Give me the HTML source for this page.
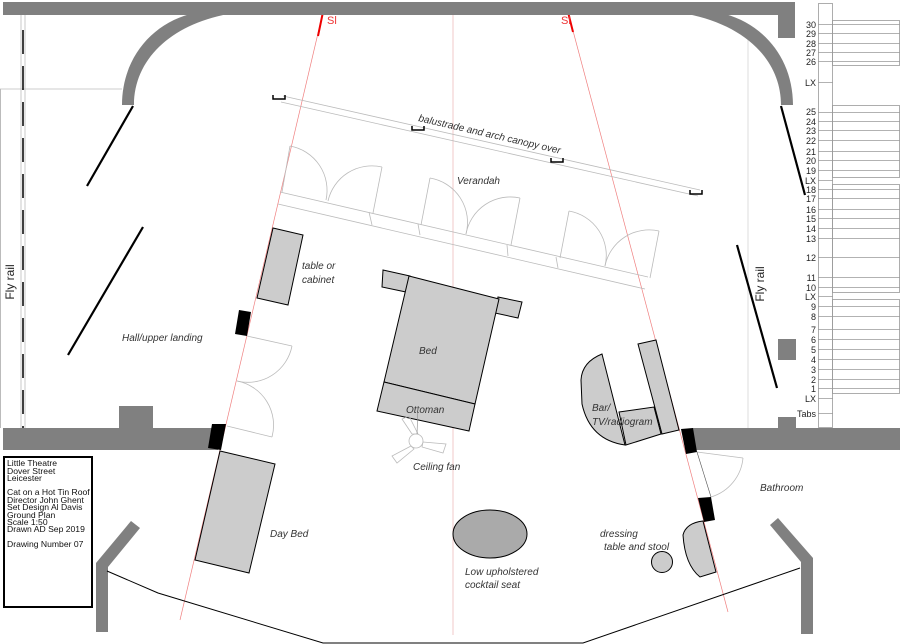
<!DOCTYPE html>
<html><head><meta charset="utf-8"><style>
html,body{margin:0;padding:0;background:#fff;}
svg{display:block;}
.s{font-family:"Liberation Sans",sans-serif;}
.h{font-family:"Liberation Sans",sans-serif;font-style:italic;fill:#333;font-size:10px;}
</style></head><body>
<svg width="900" height="644" viewBox="0 0 900 644" xmlns="http://www.w3.org/2000/svg">
<line x1="453" y1="10" x2="453" y2="635" stroke="#f0c8c8" stroke-width="1"/>
<line x1="323" y1="12" x2="180" y2="620" stroke="#f08080" stroke-width="0.7"/>
<line x1="568" y1="12" x2="728" y2="612" stroke="#f08080" stroke-width="0.7"/>
<line x1="323" y1="12" x2="318" y2="36" stroke="#e00" stroke-width="2"/>
<line x1="568" y1="12" x2="573" y2="32" stroke="#e00" stroke-width="2"/>
<text x="327" y="24" class="s" font-size="11" fill="#e33">Sl</text>
<text x="561" y="24" class="s" font-size="11" fill="#e33">Sl</text>
<text x="449" y="10" class="s" font-size="10" fill="#e33">C</text>
<line x1="748" y1="40" x2="748" y2="428" stroke="#ddd" stroke-width="1"/>
<line x1="0" y1="89" x2="122" y2="89" stroke="#bbb" stroke-width="0.7"/>
<line x1="0.5" y1="89" x2="0.5" y2="428" stroke="#bbb" stroke-width="1"/>
<rect x="3" y="2" width="792" height="13" fill="#808080"/>
<rect x="778" y="2" width="17" height="36" fill="#808080"/>
<path d="M122,105 C122,60 150,25 190,14 L228,14 C170,25 134,60 134,105 Z" fill="#808080"/>
<path d="M793,105 C793,60 765,25 725,14 L687,14 C745,25 781,60 781,105 Z" fill="#808080"/>
<line x1="21" y1="15" x2="21" y2="430" stroke="#bbb" stroke-width="0.8"/>
<line x1="25" y1="15" x2="25" y2="430" stroke="#bbb" stroke-width="0.8"/>
<line x1="23" y1="30" x2="23" y2="428" stroke="#000" stroke-width="1.5" stroke-dasharray="24,12"/>
<text transform="translate(14,282) rotate(-90)" class="s" font-size="12" fill="#222" text-anchor="middle">Fly rail</text>
<text transform="translate(764,284) rotate(-90)" class="s" font-size="12" fill="#222" text-anchor="middle">Fly rail</text>
<line x1="133" y1="106" x2="87" y2="186" stroke="#000" stroke-width="2.2"/>
<line x1="143" y1="227" x2="68" y2="355" stroke="#000" stroke-width="2.2"/>
<line x1="781" y1="106" x2="805" y2="195" stroke="#000" stroke-width="2.2"/>
<line x1="737" y1="245" x2="777" y2="388" stroke="#000" stroke-width="2.2"/>
<rect x="778" y="339" width="18" height="21" fill="#808080"/>
<rect x="3" y="428" width="215" height="22" fill="#808080"/>
<rect x="119" y="406" width="34" height="22" fill="#808080"/>
<rect x="693" y="428" width="207" height="22" fill="#808080"/>
<rect x="778" y="417" width="18" height="11" fill="#808080"/>
<polygon points="212,424 226,424 221,450 208,448" fill="#000"/>
<polygon points="239,310 251,312 247,336 235,334" fill="#000"/>
<polygon points="681,429 693,428 697,452 686,454" fill="#000"/>
<polygon points="698,498 711,497 715,520 704,522" fill="#000"/>
<g fill="none" stroke="#bbb" stroke-width="0.8">
<line x1="247" y1="336" x2="292" y2="346"/>
<path d="M292,346 A45,45 0 0 1 237,381"/>
<line x1="227" y1="426" x2="272" y2="437"/>
<path d="M237,381 A45,45 0 0 1 272,437"/>
<line x1="697" y1="452" x2="743" y2="458"/>
<path d="M743,458 A45,45 0 0 1 711,497"/>
</g>
<line x1="697" y1="452" x2="711" y2="497" stroke="#555" stroke-width="0.6"/>
<path d="M96,632 L96,563 L131,521 L140,528 L108,567 L108,632 Z" fill="#808080"/>
<path d="M770,525 L778,518 L813,558 L813,634 L801,634 L801,562 Z" fill="#808080"/>
<polyline points="107,571 158,593 323,643 583,643 800,568" fill="none" stroke="#000" stroke-width="1"/>
<rect x="4" y="457" width="88" height="150" fill="none" stroke="#000" stroke-width="2"/>
<g class="s" font-size="8.6" fill="#111">
<text x="7" y="466">Little Theatre</text>
<text x="7" y="474">Dover Street</text>
<text x="7" y="481">Leicester</text>
<text x="7" y="495">Cat on a Hot Tin Roof</text>
<text x="7" y="503">Director John Ghent</text>
<text x="7" y="510">Set Design Al Davis</text>
<text x="7" y="518">Ground Plan</text>
<text x="7" y="525">Scale 1:50</text>
<text x="7" y="532">Drawn AD Sep 2019</text>
<text x="7" y="547">Drawing Number 07</text>
</g>
<g stroke="#bbb" stroke-width="0.8" fill="none">
<line x1="283" y1="96" x2="700" y2="190"/>
<line x1="281" y1="102" x2="698" y2="196"/>
<line x1="280" y1="192" x2="648" y2="277"/>
<line x1="278" y1="204" x2="645" y2="289"/>
<line x1="369" y1="212" x2="372" y2="225"/>
<line x1="418" y1="224" x2="420" y2="235"/>
<line x1="507" y1="245" x2="508" y2="256"/>
<line x1="556" y1="257" x2="558" y2="268"/>
<line x1="290" y1="146" x2="282" y2="192"/>
<path d="M290,146 A45,45 0 0 1 326,200"/>
<line x1="382" y1="167" x2="373" y2="213"/>
<path d="M382,167 A45,45 0 0 0 328,201"/>
<line x1="430" y1="178" x2="421" y2="225"/>
<path d="M430,178 A45,45 0 0 1 466,234"/>
<line x1="520" y1="198" x2="511" y2="245"/>
<path d="M520,198 A45,45 0 0 0 466,234"/>
<line x1="569" y1="211" x2="560" y2="258"/>
<path d="M569,211 A45,45 0 0 1 605,266"/>
<line x1="659" y1="231" x2="650" y2="278"/>
<path d="M659,231 A45,45 0 0 0 605,266"/>
</g>
<g stroke="#000" stroke-width="1.5" fill="none">
<path d="M273,95 v4 h12 v-4"/>
<path d="M412,126 v4 h12 v-4"/>
<path d="M551,158 v4 h12 v-4"/>
<path d="M690,190 v4 h12 v-4"/>
</g>
<text transform="translate(418,121) rotate(13)" class="h">balustrade and arch canopy over</text>
<text x="457" y="184" class="h">Verandah</text>
<polygon points="273,228 303,235 288,305 257,298" fill="#ccc" stroke="#000" stroke-width="1"/>
<text x="302" y="269" class="h">table or</text>
<text x="302" y="283" class="h">cabinet</text>
<text x="122" y="341" class="h">Hall/upper landing</text>
<g fill="#ccc" stroke="#000" stroke-width="1">
<polygon points="383,270 410,276 406,292 382,287"/>
<polygon points="498,297 522,302 518,318 495,313"/>
<polygon points="409,276 499,299 475,404 384,382"/>
<polygon points="384,382 475,404 469,431 377,411"/>
</g>
<text x="419" y="354" class="h">Bed</text>
<text x="406" y="413" class="h">Ottoman</text>
<g fill="none" stroke="#bbb" stroke-width="0.8">
<circle cx="416" cy="441" r="7"/>
<polygon points="412,434 402,419 409,416 418,434"/>
<polygon points="423,442 446,444 443,453 422,447"/>
<polygon points="411,446 392,456 397,463 414,449"/>
</g>
<line x1="417" y1="434" x2="418" y2="406" stroke="#888" stroke-width="0.6"/>
<text x="413" y="470" class="h">Ceiling fan</text>
<polygon points="220,451 275,464 249,573 195,560" fill="#ccc" stroke="#000" stroke-width="1"/>
<text x="270" y="537" class="h">Day Bed</text>
<ellipse cx="490" cy="534" rx="37" ry="24" fill="#aaa" stroke="#000" stroke-width="1"/>
<text x="465" y="575" class="h">Low upholstered</text>
<text x="465" y="588" class="h">cocktail seat</text>
<g fill="#ccc" stroke="#000" stroke-width="1">
<path d="M602,354 Q582,362 581,380 L582,404 Q590,440 625,445 Z"/>
<polygon points="619,412 654,407 661,434 626,445"/>
<polygon points="638,344 656,340 679,430 662,434"/>
<path d="M703,521 Q686,523 683,535 Q685,565 700,577 L716,572 Z"/>
<circle cx="662" cy="562" r="10.5"/>
</g>
<text x="592" y="411" class="h">Bar/</text>
<text x="592" y="425" class="h">TV/radiogram</text>
<text x="600" y="537" class="h">dressing</text>
<text x="604" y="550" class="h">table and stool</text>
<text x="760" y="491" class="h">Bathroom</text>
<rect x="818.5" y="3.5" width="14" height="424" fill="none" stroke="#999" stroke-width="0.8"/>
<g stroke="#999" stroke-width="0.8" fill="none">
<rect x="832.5" y="20.5" width="67" height="45"/>
<rect x="832.5" y="105.5" width="67" height="72"/>
<rect x="832.5" y="184.5" width="67" height="108"/>
<rect x="832.5" y="299.5" width="67" height="94"/>
</g>
<g class="s" font-size="9" fill="#222" text-anchor="end">
<text x="816" y="28">30</text><text x="816" y="37">29</text><text x="816" y="47">28</text><text x="816" y="56">27</text><text x="816" y="65">26</text>
<text x="816" y="86">LX</text>
<text x="816" y="115">25</text><text x="816" y="125">24</text><text x="816" y="134">23</text><text x="816" y="144">22</text><text x="816" y="155">21</text><text x="816" y="164">20</text><text x="816" y="174">19</text><text x="816" y="184">LX</text>
<text x="816" y="193">18</text><text x="816" y="202">17</text><text x="816" y="213">16</text><text x="816" y="222">15</text><text x="816" y="232">14</text><text x="816" y="242">13</text><text x="816" y="261">12</text><text x="816" y="281">11</text><text x="816" y="291">10</text><text x="816" y="300">LX</text>
<text x="816" y="310">9</text><text x="816" y="320">8</text><text x="816" y="333">7</text><text x="816" y="343">6</text><text x="816" y="353">5</text><text x="816" y="363">4</text><text x="816" y="373">3</text><text x="816" y="383">2</text><text x="816" y="392">1</text><text x="816" y="402">LX</text>
<text x="816" y="417">Tabs</text>
</g>
<g stroke="#999" stroke-width="0.7">
<path d="M818,24.5h82M818,33.5h82M818,43.5h82M818,52.5h82M818,61.5h82M818,82.5h15M818,112.5h82M818,121.5h82M818,130.5h82M818,140.5h82M818,151.5h82M818,160.5h82M818,170.5h82M818,180.5h15M818,189.5h82M818,198.5h82M818,209.5h82M818,218.5h82M818,228.5h82M818,238.5h82M818,257.5h82M818,277.5h82M818,287.5h82M818,296.5h15M818,306.5h82M818,316.5h82M818,329.5h82M818,339.5h82M818,349.5h82M818,359.5h82M818,369.5h82M818,379.5h82M818,388.5h82M818,398.5h15M818,413.5h15"/>
</g>
</svg>
</body></html>
